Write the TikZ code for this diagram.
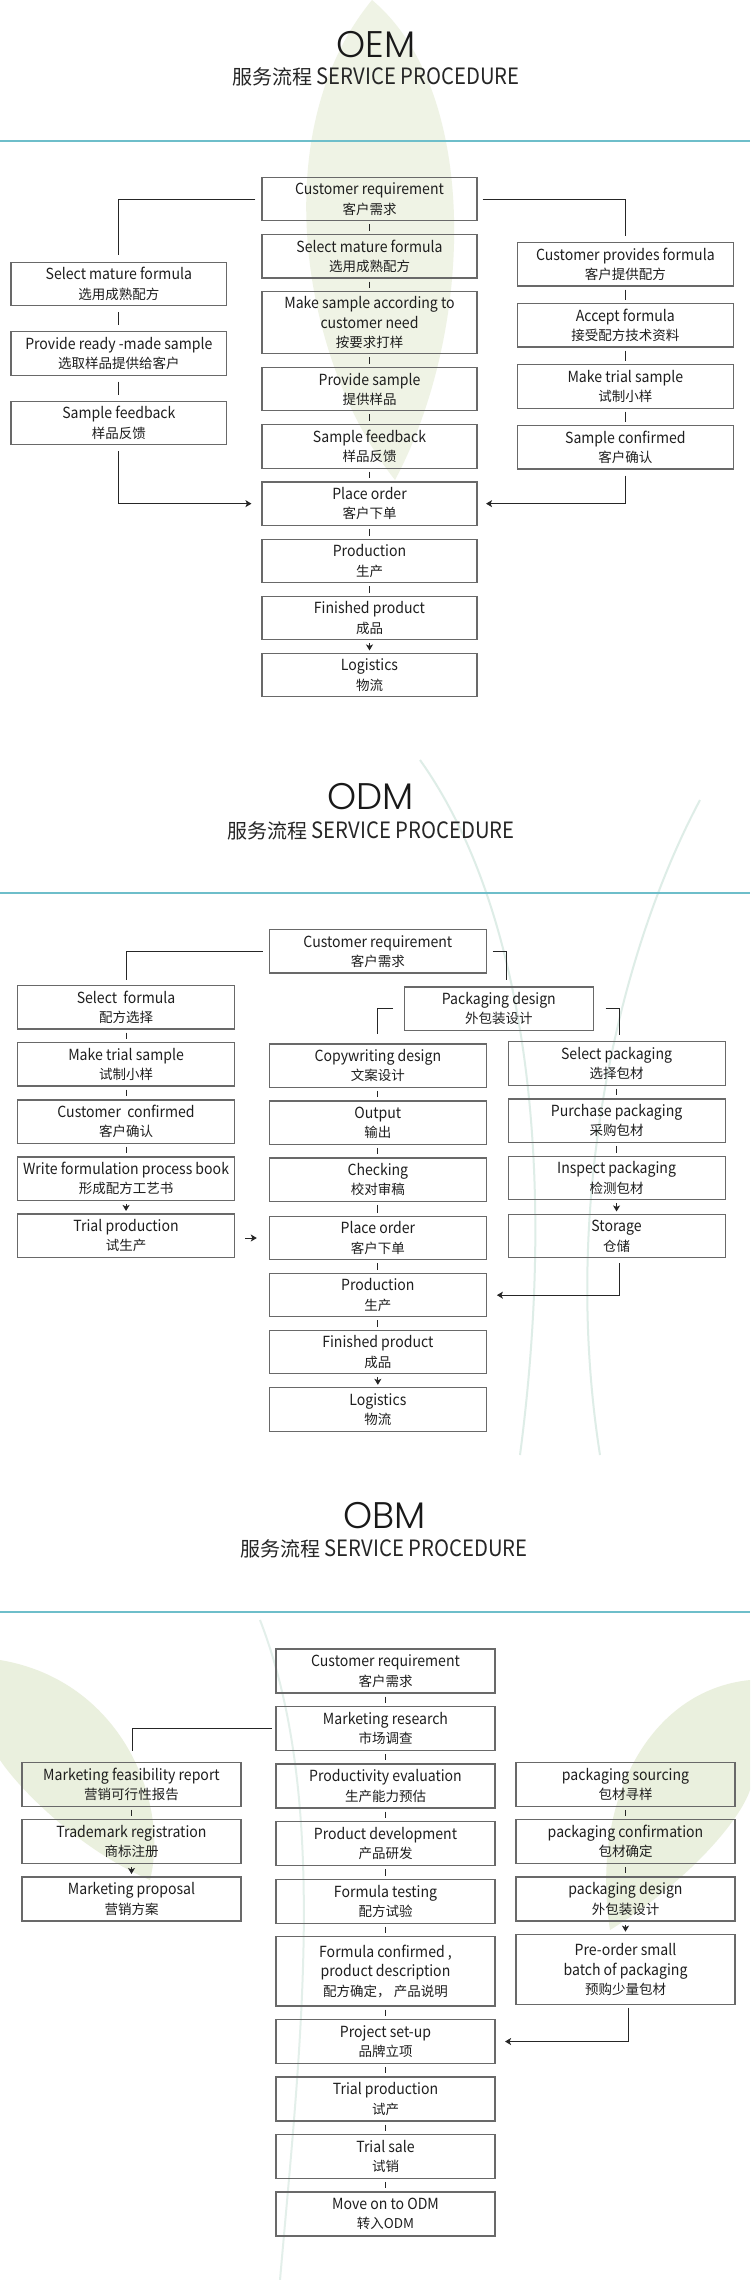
\documentclass[tikz,border=0pt]{standalone}
\usepackage{fontspec}
\setmainfont{Noto Sans CJK SC}
\newfontfamily\enfont{Noto Sans CJK SC}[FakeStretch=0.92]
\newfontfamily\subenfont{Noto Sans CJK SC}[FakeStretch=0.9]
\newfontfamily\thinfont{Poppins Light}
\usetikzlibrary{arrows.meta,calc}
\definecolor{teal1}{RGB}{110,190,202}
\definecolor{boxline}{RGB}{105,105,105}
\definecolor{txt}{RGB}{30,30,30}
\definecolor{leafc}{RGB}{226,234,208}
\definecolor{stemc}{RGB}{200,225,215}
\newcommand{\topfix}{\rule{0pt}{19.5pt}}
\tikzset{
 bx/.style={draw=boxline, line width=1.1pt, rectangle, inner sep=0pt, align=center, text=txt, font=\enfont\fontsize{15.3}{19.4}\selectfont, execute at begin node=\topfix},
 tick/.style={draw=black!85, line width=1pt, shorten >=3pt, shorten <=3pt},
 ltick/.style={tick, shorten >=6pt, shorten <=6pt},
 ln/.style={draw=black!85, line width=1pt},
 arr/.style={ln, -{Stealth[length=6pt,width=7pt,inset=1.5pt]}},
 tarr/.style={arr, shorten >=2.5pt, shorten <=3pt},
 ttl/.style={font=\thinfont\fontsize{37}{40}\selectfont, anchor=base, text=black!90, inner sep=0pt, text depth=0pt},
 sub/.style={font=\fontsize{20}{22}\selectfont, anchor=base, text=black!85, inner sep=0pt, text height=14pt},
 sep/.style={draw=teal1, line width=1.8pt},
 cA/.style={bx, minimum width=215pt, minimum height=43.3pt},
 cB/.style={bx, minimum width=217pt, minimum height=43.3pt},
 cC/.style={bx, minimum width=219pt, minimum height=44pt},
}
\newcommand{\zh}[1]{{\rmfamily\fontsize{13.5}{19.4}\selectfont #1}}
\newcommand{\subt}{服务流程 {\subenfont\fontsize{22.5}{24}\selectfont SERVICE PROCEDURE}}
\begin{document}
\begin{tikzpicture}[x=1pt,y=-1pt]
\fill[white] (0,0) rectangle (750,2280);
\useasboundingbox (0,0) rectangle (750,2280);
% faint background decoration
\fill[leafc, opacity=0.55] (372,0) .. controls (480,90) and (475,330) .. (395,480) .. controls (300,360) and (265,130) .. (372,0);
\fill[leafc, opacity=0.7] (0,1660) .. controls (120,1680) and (170,1800) .. (150,1880) .. controls (80,1850) and (20,1790) .. (0,1760) -- cycle;
\fill[leafc, opacity=0.7] (750,1680) .. controls (650,1690) and (590,1800) .. (610,1930) .. controls (690,1880) and (740,1820) .. (750,1790) -- cycle;
\draw[stemc, line width=2pt, opacity=0.6] (420,760) .. controls (520,900) and (560,1150) .. (520,1455);
\draw[stemc, line width=2pt, opacity=0.6] (700,800) .. controls (620,950) and (560,1200) .. (600,1455);
\draw[stemc, line width=2pt, opacity=0.5] (260,1620) .. controls (330,1800) and (300,2050) .. (280,2280);

% ===== OEM =====
\node[ttl] (t1) at (376,57.3) {OEM};
\node[sub] (s1) at (376,85) {\subt};
\draw[sep] (0,141) -- (750,141);

\node[cA] (c1cr) at (369.5,199.2) {Customer requirement\\\zh{客户需求}};
\node[cA] (c1smf) at (369.5,256.35) {Select mature formula\\\zh{选用成熟配方}};
\node[cA, minimum height=62pt] (c1ms) at (369.5,322.7) {Make sample according to\\customer need\\\zh{按要求打样}};
\node[cA] (c1ps) at (369.5,389.2) {Provide sample\\\zh{提供样品}};
\node[cA] (c1sf) at (369.5,446.5) {Sample feedback\\\zh{样品反馈}};
\node[cA] (c1po) at (369.5,503.65) {Place order\\\zh{客户下单}};
\node[cA] (c1pr) at (369.5,560.8) {Production\\\zh{生产}};
\node[cA] (c1fp) at (369.5,617.8) {Finished product\\\zh{成品}};
\node[cA] (c1lg) at (369.5,675.15) {Logistics\\\zh{物流}};

\node[cA, minimum width=215.7pt] (l1smf) at (118.85,283.8) {Select mature formula\\\zh{选用成熟配方}};
\node[cA, minimum width=215.7pt] (l1prm) at (118.85,353.5) {Provide ready -made sample\\\zh{选取样品提供给客户}};
\node[cA, minimum width=215.7pt] (l1sf) at (118.85,423) {Sample feedback\\\zh{样品反馈}};

\node[cA, minimum width=215.7pt] (r1cpf) at (625.35,264.35) {Customer provides formula\\\zh{客户提供配方}};
\node[cA, minimum width=215.7pt] (r1af) at (625.35,325.35) {Accept formula\\\zh{接受配方技术资料}};
\node[cA, minimum width=215.7pt] (r1mts) at (625.35,386.5) {Make trial sample\\\zh{试制小样}};
\node[cA, minimum width=215.7pt] (r1sc) at (625.35,447.35) {Sample confirmed\\\zh{客户确认}};

\draw[ln] ($(c1cr.west)+(-6,0)$) -| ($(l1smf.north)+(0,-6.5)$);
\draw[ln] ($(c1cr.east)+(5,0)$) -| ($(r1cpf.north)+(0,-6.4)$);
\draw[tick] (c1cr) -- (c1smf);
\draw[tick] (c1smf) -- (c1ms);
\draw[tick] (c1ms) -- (c1ps);
\draw[tick] (c1ps) -- (c1sf);
\draw[tick] (c1sf) -- (c1po);
\draw[tick] (c1po) -- (c1pr);
\draw[tick] (c1pr) -- (c1fp);
\draw[tarr] (c1fp) -- (c1lg);
\draw[ltick] (l1smf) -- (l1prm);
\draw[ltick] (l1prm) -- (l1sf);
\draw[arr] ($(l1sf.south)+(0,6)$) |- ($(c1po.west)+(-10,0)$);
\draw[tick] (r1cpf) -- (r1af);
\draw[tick] (r1af) -- (r1mts);
\draw[tick] (r1mts) -- (r1sc);
\draw[arr] ($(r1sc.south)+(0,6)$) |- ($(c1po.east)+(8.5,0)$);

% ===== ODM =====
\node[ttl] (t2) at (370.7,809) {ODM};
\node[sub] (s2) at (371,838.3) {\subt};
\draw[sep] (0,892.7) -- (750,892.7);

\node[cB] (c2cr) at (377.85,951.35) {Customer requirement\\\zh{客户需求}};
\node[cB] (c2cw) at (377.85,1065.65) {Copywriting design\\\zh{文案设计}};
\node[cB] (c2out) at (377.85,1122.65) {Output\\\zh{输出}};
\node[cB] (c2chk) at (377.85,1179.65) {Checking\\\zh{校对审稿}};
\node[cB] (c2po) at (377.85,1238) {Place order\\\zh{客户下单}};
\node[cB] (c2pr) at (377.85,1295.15) {Production\\\zh{生产}};
\node[cB] (c2fp) at (377.85,1352.15) {Finished product\\\zh{成品}};
\node[cB] (c2lg) at (377.85,1409.5) {Logistics\\\zh{物流}};

\node[cB] (l2sf) at (126.05,1007.35) {Select\ \ formula\\\zh{配方选择}};
\node[cB] (l2mts) at (126.05,1064.35) {Make trial sample\\\zh{试制小样}};
\node[cB] (l2cc) at (126.05,1121.65) {Customer\ \ confirmed\\\zh{客户确认}};
\node[cB] (l2wf) at (126.05,1178.65) {Write formulation process book\\\zh{形成配方工艺书}};
\node[cB] (l2tp) at (126.05,1235.65) {Trial production\\\zh{试生产}};

\node[cB, minimum width=188.5pt] (pkd) at (498.85,1008.65) {Packaging design\\\zh{外包装设计}};

\node[cB] (r2sp) at (616.55,1063.5) {Select packaging\\\zh{选择包材}};
\node[cB] (r2pp) at (616.55,1120.65) {Purchase packaging\\\zh{采购包材}};
\node[cB] (r2ip) at (616.55,1177.85) {Inspect packaging\\\zh{检测包材}};
\node[cB] (r2st) at (616.55,1236.15) {Storage\\\zh{仓储}};

\draw[ln] ($(c2cr.west)+(-6,0)$) -| ($(l2sf.north)+(0,-5)$);
\draw[ln] ($(c2cr.east)+(6,0)$) -| ($(pkd.north)+(7.5,-6)$);
\draw[ln] ($(pkd.west)+(-11,0)$) -| ($(c2cw.north)+(0,-9)$);
\draw[ln] ($(pkd.east)+(12,0)$) -| ($(r2sp.north)+(3,-6.5)$);
\draw[tick] (l2sf) -- (l2mts);
\draw[tick] (l2mts) -- (l2cc);
\draw[tick] (l2cc) -- (l2wf);
\draw[tarr] (l2wf) -- (l2tp);
\draw[arr] ($(l2tp.east |- c2po.west)+(10,0)$) -- ($(c2po.west)+(-12,0)$);
\draw[tick] (c2cw) -- (c2out);
\draw[tick] (c2out) -- (c2chk);
\draw[tick] (c2chk) -- (c2po);
\draw[tick] (c2po) -- (c2pr);
\draw[tick] (c2pr) -- (c2fp);
\draw[tarr] (c2fp) -- (c2lg);
\draw[tick] (r2sp) -- (r2pp);
\draw[tick] (r2pp) -- (r2ip);
\draw[tarr] (r2ip) -- (r2st);
\draw[arr] ($(r2st.south)+(3,5)$) |- ($(c2pr.east)+(10,0)$);

% ===== OBM =====
\node[ttl] (t3) at (384.6,1528.3) {OBM};
\node[sub] (s3) at (384,1556.7) {\subt};
\draw[sep] (0,1612) -- (750,1612);

\node[cC] (c3cr) at (385.5,1671) {Customer requirement\\\zh{客户需求}};
\node[cC] (c3mr) at (385.5,1728.7) {Marketing research\\\zh{市场调查}};
\node[cC] (c3pe) at (385.5,1786) {Productivity evaluation\\\zh{生产能力预估}};
\node[cC] (c3pd) at (385.5,1843.5) {Product development\\\zh{产品研发}};
\node[cC] (c3ft) at (385.5,1901.3) {Formula testing\\\zh{配方试验}};
\node[cC, minimum height=69.3pt] (c3fc) at (385.5,1971.35) {Formula confirmed ,\\product description\\\zh{配方确定， 产品说明}};
\node[cC] (c3ps) at (385.5,2041.5) {Project set-up\\\zh{品牌立项}};
\node[cC] (c3tp) at (385.5,2099) {Trial production\\\zh{试产}};
\node[cC] (c3ts) at (385.5,2156.3) {Trial sale\\\zh{试销}};
\node[cC] (c3mo) at (385.5,2214) {Move on to ODM\\\zh{转入ODM}};

\node[cC] (l3mfr) at (131.5,1784.3) {Marketing feasibility report\\\zh{营销可行性报告}};
\node[cC] (l3tr) at (131.5,1841.5) {Trademark registration\\\zh{商标注册}};
\node[cC] (l3mp) at (131.5,1899) {Marketing proposal\\\zh{营销方案}};

\node[cC] (r3src) at (625.5,1784.3) {packaging sourcing\\\zh{包材寻样}};
\node[cC] (r3cf) at (625.5,1841.5) {packaging confirmation\\\zh{包材确定}};
\node[cC] (r3des) at (625.5,1899) {packaging design\\\zh{外包装设计}};
\node[cC, minimum height=69.6pt] (r3pre) at (625.5,1969.5) {Pre-order small\\batch of packaging\\\zh{预购少量包材}};

\draw[tick] (c3cr) -- (c3mr);
\draw[tick] (c3mr) -- (c3pe);
\draw[tick] (c3pe) -- (c3pd);
\draw[tick] (c3pd) -- (c3ft);
\draw[tick] (c3ft) -- (c3fc);
\draw[tick] (c3fc) -- (c3ps);
\draw[tick] (c3ps) -- (c3tp);
\draw[tick] (c3tp) -- (c3ts);
\draw[tick] (c3ts) -- (c3mo);
\draw[ln] ($(c3mr.west)+(-3.5,0)$) -| ($(l3mfr.north)+(1,-11)$);
\draw[tick] (l3mfr) -- (l3tr);
\draw[tarr] (l3tr) -- (l3mp);
\draw[tick] (r3src) -- (r3cf);
\draw[tick] (r3cf) -- (r3des);
\draw[tarr] (r3des) -- (r3pre);
\draw[arr] ($(r3pre.south)+(2.5,3)$) |- ($(c3ps.east)+(9.5,0)$);
\end{tikzpicture}
\end{document}
